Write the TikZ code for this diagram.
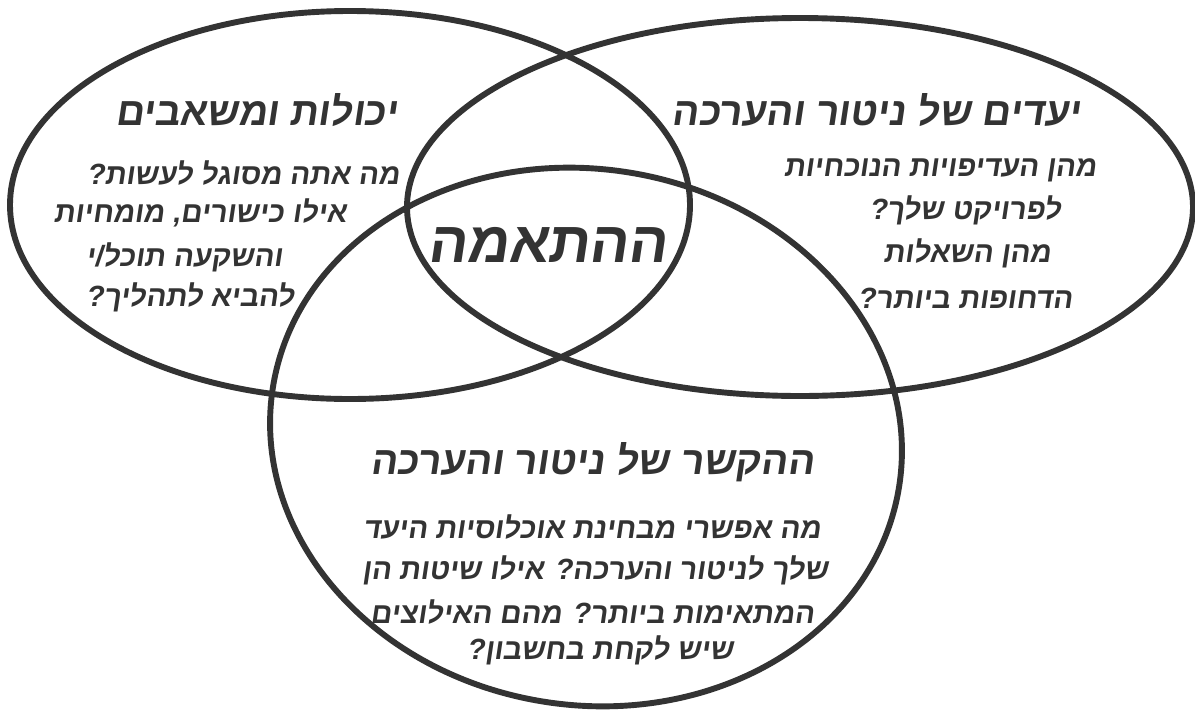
\documentclass[tikz,border=0pt]{standalone}
\usepackage{fontspec}
\usepackage{tikz}
\TeXXeTstate=1
\newfontfamily\hebfont[Script=Hebrew,FakeSlant=0.15]{Liberation Sans}
\definecolor{ink}{HTML}{333333}
\tikzset{
  venn/.style={draw=ink,line width=4.2pt},
  heading/.style={text=ink,inner sep=0pt,font=\hebfont\bfseries\fontsize{28}{32}\selectfont},
  question/.style={text=ink,inner sep=0pt,font=\hebfont\bfseries\fontsize{20.8}{25}\selectfont},
  centre/.style={text=ink,inner sep=0pt,font=\hebfont\bfseries\fontsize{41}{46}\selectfont}
}
\newcommand{\heb}[1]{\beginR #1\endR}

\begin{document}
\begin{tikzpicture}[x=0.025cm,y=-0.025cm]
  \useasboundingbox (0,0) rectangle (1195,711);
  \fill[white] (0,0) rectangle (1195,711);
  \draw[venn] (350,205) ellipse [x radius=340,y radius=194];
  \draw[venn] (800,207) ellipse [x radius=393,y radius=189];
  \draw[venn,rotate around={-9:(586,437)}] (586,437) ellipse [x radius=317,y radius=268];

  \node[heading] (capTitle) at (256,110) {\heb{יכולות ומשאבים}};
  \node[question] (capA) at (243,173) {\heb{מה אתה מסוגל לעשות?}};
  \node[question] (capB) at (200,213) {\heb{אילו כישורים, מומחיות}};
  \node[question] (capC) at (184,257) {\heb{והשקעה תוכל/י}};
  \node[question] (capD) at (190,297) {\heb{להביא לתהליך?}};

  \node[heading] (goalTitle) at (876,110) {\heb{יעדים של ניטור והערכה}};
  \node[question] (goalA) at (940,170) {\heb{מהן העדיפויות הנוכחיות}};
  \node[question] (goalB) at (965,210) {\heb{לפרויקט שלך?}};
  \node[question] (goalC) at (967,253) {\heb{מהן השאלות}};
  \node[question] (goalD) at (965,298) {\heb{הדחופות ביותר?}};

  \node[heading] (ctxTitle) at (592,462) {\heb{ההקשר של ניטור והערכה}};
  \node[question] (ctxA) at (592,527) {\heb{מה אפשרי מבחינת אוכלוסיות היעד}};
  \node[question] (ctxB) at (595,570) {\heb{שלך לניטור והערכה? אילו שיטות הן}};
  \node[question] (ctxC) at (592,612) {\heb{המתאימות ביותר? מהם האילוצים}};
  \node[question] (ctxD) at (600,650) {\heb{שיש לקחת בחשבון?}};

  \node[centre] (fit) at (547,245) {\heb{ההתאמה}};
\end{tikzpicture}
\end{document}
